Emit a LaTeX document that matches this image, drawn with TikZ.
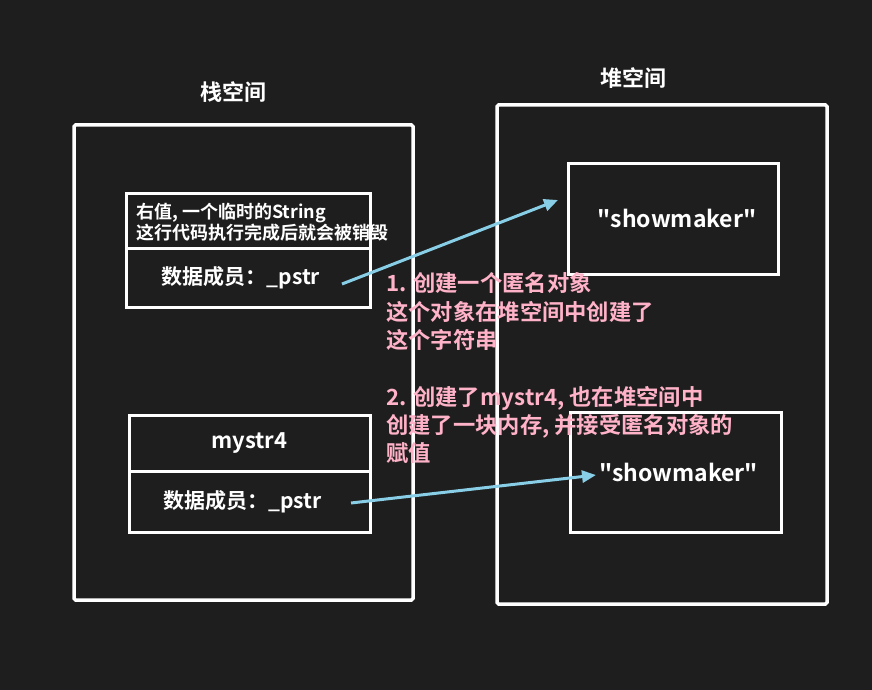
\documentclass[tikz,border=0pt]{standalone}
\usepackage{fontspec}
\setmainfont{Noto Sans CJK SC}[BoldFont={Noto Sans CJK SC Bold}]
\usetikzlibrary{arrows.meta,positioning}
\definecolor{canvasgray}{RGB}{30,30,30}
\definecolor{notepink}{RGB}{255,178,200}
\definecolor{pointerblue}{RGB}{135,206,230}

\begin{document}
\begin{tikzpicture}[
  x=1pt,y=-1pt,
  >={Triangle[length=14pt,width=12pt]},
  frame/.style={draw=white,line width=3.5pt,rounded corners=1.5pt,
    anchor=north west,inner sep=0pt,outer sep=0pt},
  cell/.style={draw=white,line width=3pt,inner sep=0pt,outer sep=0pt,
    text=white,font=\fontsize{21}{25}\selectfont\bfseries},
  heapcell/.style={cell,anchor=north west,font=\fontsize{23}{27}\selectfont\bfseries},
  title/.style={text=white,font=\fontsize{22}{26}\selectfont\bfseries},
  memo/.style={text=white,align=left,anchor=west,inner sep=0pt,
    font=\fontsize{18}{21.5}\selectfont\bfseries},
  note/.style={text=notepink,align=left,anchor=west,inner sep=0pt,
    font=\fontsize{22.3}{28.3}\selectfont\bfseries},
  ptr/.style={->,line width=3pt,pointerblue}
]
\fill[canvasgray] (0,0) rectangle (872,690);
% stack side
\node[frame,minimum width=339pt,minimum height=475pt] (stack) at (74,125) {};
\node[title] (stacklabel) at (233,92) {栈空间};
\node[cell,anchor=north west,minimum width=244pt,minimum height=55pt] (rtop) at (126,193) {};
\node[cell,below=0pt of rtop,minimum width=244pt,minimum height=59pt] (rbot) {数据成员：\_pstr\kern14pt};
\node[memo] (rnote) at (136,222) {右值, 一个临时的String\\这行代码执行完成后就会被销毁};
\node[cell,anchor=north west,minimum width=241pt,minimum height=56pt,
  font=\fontsize{22}{26}\selectfont\bfseries] (mtop) at (129,415) {mystr4};
\node[cell,below=0pt of mtop,minimum width=241pt,minimum height=61pt] (mbot) {数据成员：\_pstr\kern14pt};
% heap side
\node[frame,minimum width=330pt,minimum height=499pt] (heap) at (497,105) {};
\node[title] (heaplabel) at (633,78) {堆空间};
\node[heapcell,minimum width=210pt,minimum height=111pt] (hobj) at (568,163) {\hspace{8pt}\textquotedbl showmaker\textquotedbl};
\node[heapcell,minimum width=211pt,minimum height=120pt] (hcopy) at (570,412) {\hspace{6pt}\textquotedbl showmaker\textquotedbl};
% notes
\node[note] (step1) at (386,311.5) {1. 创建一个匿名对象\\这个对象在堆空间中创建了\\这个字符串};
\node[note] (step2) at (386,425) {2. 创建了mystr4, 也在堆空间中\\创建了一块内存, 并接受匿名对象的\\赋值};
\draw[ptr] ([xshift=-28pt,yshift=-6.5pt]rbot.east) -- ([xshift=-10pt,yshift=18.5pt]hobj.west);
\draw[ptr] ([xshift=-19pt,yshift=-1.5pt]mbot.east) -- ([xshift=26pt,yshift=-3pt]hcopy.west);
\end{tikzpicture}
\end{document}
